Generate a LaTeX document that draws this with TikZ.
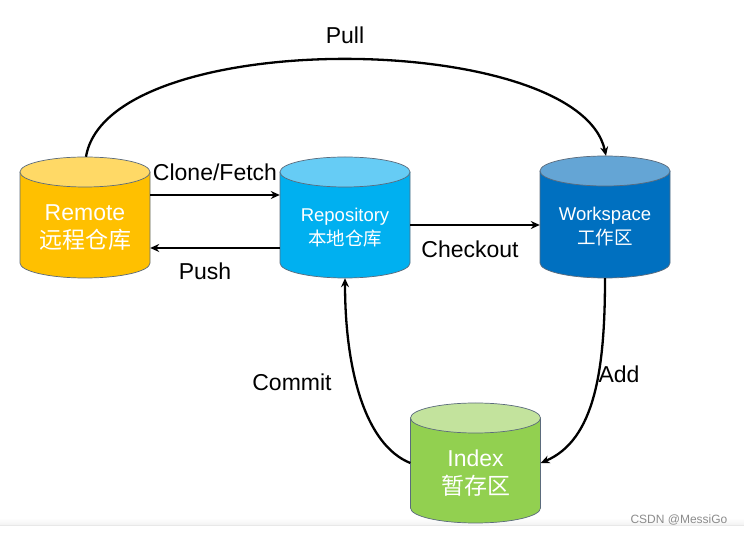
\documentclass[tikz,border=0pt]{standalone}
\usepackage{fontspec}
\setmainfont{Liberation Sans}
\newfontfamily\cjk{Noto Sans CJK SC}
\usetikzlibrary{arrows.meta,calc}
\definecolor{remB}{HTML}{FFC000}\definecolor{remT}{HTML}{FFD966}
\definecolor{repB}{HTML}{00B0F0}\definecolor{repT}{HTML}{66CCF5}
\definecolor{wsB}{HTML}{0070C0}\definecolor{wsT}{HTML}{64A5D5}
\definecolor{idxB}{HTML}{92D050}\definecolor{idxT}{HTML}{C3E39D}
\definecolor{rim}{HTML}{5B6B7C}
\newcommand\dbcyl[8]{% name, cx, cy, half height, body, top, font, text
  \fill[#5] (#2-65,#3+#4-15) -- (#2-65,#3-#4+15) arc[start angle=180,end angle=360,x radius=65,y radius=15] -- (#2+65,#3+#4-15) -- cycle;
  \draw[rim,line width=0.7pt] (#2-65,#3+#4-15) -- (#2-65,#3-#4+15) arc[start angle=180,end angle=360,x radius=65,y radius=15] -- (#2+65,#3+#4-15);
  \filldraw[fill=#6,draw=rim,line width=0.7pt] (#2,#3+#4-15) ellipse[x radius=65,y radius=15];
  \node[minimum width=130pt,minimum height=2*#4 pt,inner sep=0pt] (#1) at (#2,#3) {};
  \node[text=white,align=center,inner sep=0pt,font=#7] (#1-t) at (#2,#3-10) {#8};
}
\begin{document}
\begin{tikzpicture}[x=1pt,y=1pt,
  arr/.style={line width=2.3pt,-{Stealth[length=9pt,width=8pt]}},
  lbl/.style={font=\fontsize{23}{27}\selectfont,inner sep=0pt,text=black}]
\useasboundingbox (0,0) rectangle (744,535);
\fill[white] (0,0) rectangle (744,535);
\shade[top color=white,bottom color=black!5] (0,10) rectangle (744,17);
\draw[black!9,line width=0.8pt] (0,10) -- (744,10);
\dbcyl{remote}{85}{317.5}{60.5}{remB}{remT}{\fontsize{23}{28}\selectfont}{Remote\\\cjk 远程仓库}
\dbcyl{repo}{345}{317.5}{60.5}{repB}{repT}{\fontsize{18.5}{24}\selectfont}{Repository\\\cjk 本地仓库}
\dbcyl{ws}{605}{318}{61}{wsB}{wsT}{\fontsize{18.5}{24}\selectfont}{Workspace\\\cjk 工作区}
\dbcyl{index}{475.5}{72}{60}{idxB}{idxT}{\fontsize{23}{28}\selectfont}{Index\\\cjk 暂存区}
% connectors
\draw[arr] ($(remote.east)+(0,22.5)$) -- ($(repo.west)+(0,22.5)$);
\draw[arr] ($(repo.west)+(0,-30.5)$) -- ($(remote.east)+(0,-30.5)$);
\draw[arr] ($(repo.east)+(0,-7.5)$) -- ($(ws.west)+(0,-8)$);
\draw[arr] ($(remote.north)+(1,0)$) .. controls +(22,132) and +(-27,126) .. ($(ws.north)+(1,0)$);
\draw[arr] (ws.south) .. controls +(0,-92) and +(54,23) .. (index.east);
\draw[arr] (index.west) .. controls +(-45,18) and +(0,-92) .. (repo.south);
% labels
\node[lbl] (lclone) at (215,363) {Clone/Fetch};
\node[lbl] (lpush) at (205,264) {Push};
\node[lbl] (lcheck) at (470,286) {Checkout};
\node[lbl] (lpull) at (345,500) {Pull};
\node[lbl] (ladd) at (619,161) {Add};
\node[lbl] (lcommit) at (292,153) {Commit};
\node[font=\fontsize{12}{14}\selectfont,text=black!45,inner sep=0pt] (wm) at (679,15) {CSDN @MessiGo};
\end{tikzpicture}
\end{document}
